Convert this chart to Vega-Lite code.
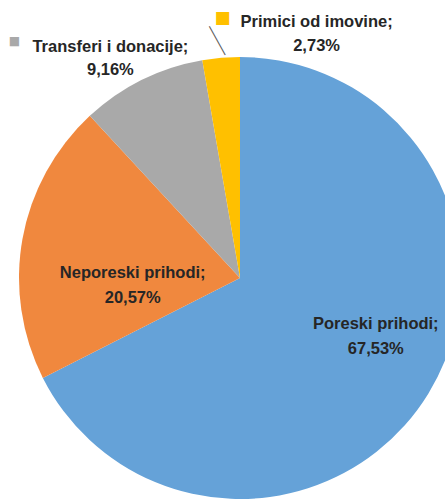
{
  "$schema": "https://vega.github.io/schema/vega-lite/v6.json",
  "width": 480,
  "height": 556,
  "autosize": "none",
  "padding": 0,
  "background": "white",
  "config": {"view": {"stroke": null}},
  "data": {
    "values": [
      {"kategorija": "Poreski prihodi", "udio": 67.53, "redoslijed": 1, "oznaka": "Poreski prihodi;\n67,53%"},
      {"kategorija": "Neporeski prihodi", "udio": 20.57, "redoslijed": 2, "oznaka": "Neporeski prihodi;\n20,57%"},
      {"kategorija": "Transferi i donacije", "udio": 9.16, "redoslijed": 3, "oznaka": "Transferi i donacije;\n9,16%"},
      {"kategorija": "Primici od imovine", "udio": 2.73, "redoslijed": 4, "oznaka": "Primici od imovine;\n2,73%"}
    ]
  },
  "encoding": {
    "theta": {"field": "udio", "type": "quantitative", "stack": true},
    "order": {"field": "redoslijed", "type": "quantitative"}
  },
  "layer": [
    {
      "mark": {"type": "arc", "radius": 221},
      "encoding": {
        "color": {
          "field": "kategorija", "type": "nominal", "legend": null,
          "scale": {
            "domain": ["Poreski prihodi", "Neporeski prihodi", "Transferi i donacije", "Primici od imovine"],
            "range": ["#65A2D8", "#F0883E", "#A9A9A9", "#FFC000"]
          }
        }
      }
    },
    {
      "mark": {"type": "text", "radius": 150, "dx": 8, "dy": -33, "font": "Liberation Sans", "fontWeight": "bold", "fontSize": 16.5, "lineBreak": "\n", "lineHeight": 25, "color": "#262626", "align": "center", "baseline": "middle"},
      "encoding": {"text": {"condition": {"test": "datum.kategorija === 'Poreski prihodi'", "field": "oznaka"}, "value": ""}}
    },
    {
      "mark": {"type": "text", "radius": 110, "dx": 1, "dy": 14, "font": "Liberation Sans", "fontWeight": "bold", "fontSize": 16.5, "lineBreak": "\n", "lineHeight": 25, "color": "#262626", "align": "center", "baseline": "middle"},
      "encoding": {"text": {"condition": {"test": "datum.kategorija === 'Neporeski prihodi'", "field": "oznaka"}, "value": ""}}
    },
    {
      "mark": {"type": "text", "radius": 245, "dx": -21, "dy": -11, "font": "Liberation Sans", "fontWeight": "bold", "fontSize": 16.5, "lineBreak": "\n", "lineHeight": 23, "color": "#262626", "align": "center", "baseline": "middle"},
      "encoding": {"text": {"condition": {"test": "datum.kategorija === 'Transferi i donacije'", "field": "oznaka"}, "value": ""}}
    },
    {
      "mark": {"type": "text", "radius": 250, "dx": 98, "dy": -7, "font": "Liberation Sans", "fontWeight": "bold", "fontSize": 16.5, "lineBreak": "\n", "lineHeight": 24, "color": "#262626", "align": "center", "baseline": "middle"},
      "encoding": {"text": {"condition": {"test": "datum.kategorija === 'Primici od imovine'", "field": "oznaka"}, "value": ""}}
    },
    {
      "mark": {"type": "text", "radius": 245, "dx": -117, "dy": -17.5, "font": "DejaVu Sans", "fontSize": 12, "align": "center", "baseline": "middle"},
      "encoding": {
        "text": {"condition": {"test": "datum.kategorija === 'Transferi i donacije'", "value": "■"}, "value": ""},
        "color": {"field": "kategorija", "type": "nominal", "legend": null}
      }
    },
    {
      "mark": {"type": "text", "radius": 250, "dx": 4, "dy": -10.5, "font": "DejaVu Sans", "fontSize": 17, "align": "center", "baseline": "middle"},
      "encoding": {
        "text": {"condition": {"test": "datum.kategorija === 'Primici od imovine'", "value": "■"}, "value": ""},
        "color": {"field": "kategorija", "type": "nominal", "legend": null}
      }
    },
    {
      "mark": {"type": "text", "radius": 250, "dx": -7, "dy": 9, "angle": 331, "font": "Roboto", "fontWeight": 100, "fontSize": 39, "align": "center", "baseline": "middle", "color": "#595959"},
      "encoding": {"text": {"condition": {"test": "datum.kategorija === 'Primici od imovine'", "value": "|"}, "value": ""}}
    }
  ]
}
